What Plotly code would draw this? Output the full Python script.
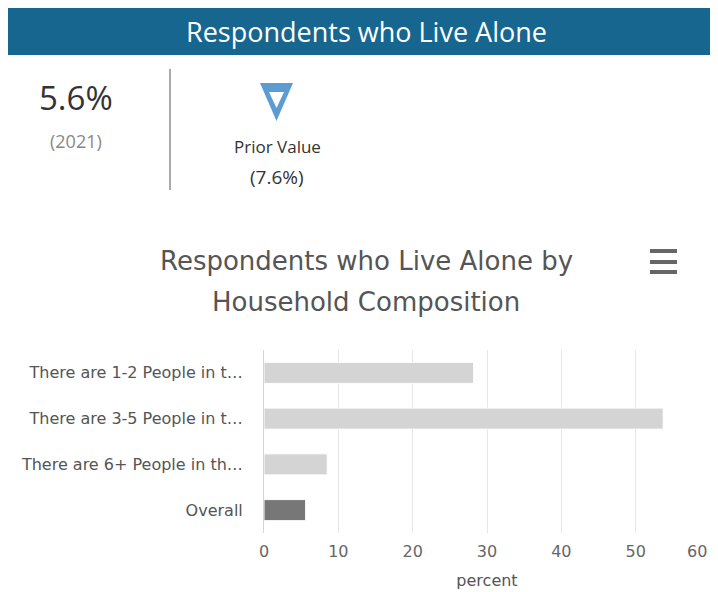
import plotly.graph_objects as go

# 데이터
categories = [
    "There are 1-2 People in t…",
    "There are 3-5 People in t…",
    "There are 6+ People in th…",
    "Overall",
]
values = [28.2, 53.7, 8.5, 5.6]
bar_colors = ["#d4d4d4", "#d4d4d4", "#d4d4d4", "#777777"]
x_ticks = [0, 10, 20, 30, 40, 50, 60]
# 마지막 눈금 레이블은 오른쪽 끝에서 잘리지 않도록 안쪽으로 당김
x_ticktext = [str(t) for t in x_ticks[:-1]] + [str(x_ticks[-1]) + "\u00a0" * 5]

current_value = "5.6%"
current_year = "2021"
prior_value = "7.6%"

# 페이지 body 기본 여백(8px) 보정
OFF = 8
W, H = 718, 592
ML, MR, MT, MB = 264 - OFF, 16, 350 - OFF, H - (533 - OFF)
PW = W - ML - MR
PH = H - MT - MB


def px(x):
    return (x - OFF - ML) / PW


def py(y):
    return (H - MB - (y - OFF)) / PH


fig = go.Figure()
fig.add_trace(go.Bar(
    x=values,
    y=categories,
    orientation="h",
    marker=dict(color=bar_colors, line=dict(color="white", width=1)),
    width=0.46,
    hoverinfo="x+y",
    showlegend=False,
))

shapes = [
    # 상단 배너
    dict(type="rect", xref="paper", yref="paper",
         x0=px(OFF - 1), x1=px(720), y0=py(5), y1=py(55),
         fillcolor="#17668f", line=dict(width=0), layer="below"),
    # 구분선
    dict(type="line", xref="paper", yref="paper",
         x0=px(170), x1=px(170), y0=py(69), y1=py(190),
         line=dict(color="#aaaaaa", width=2)),
    # 하향 삼각형 (외곽 + 안쪽 흰색)
    dict(type="path", xref="paper", yref="paper",
         path=f"M {px(260)} {py(83)} L {px(293)} {py(83)} L {px(276.5)} {py(121)} Z",
         fillcolor="#5f9bd3", line=dict(width=0)),
    dict(type="path", xref="paper", yref="paper",
         path=f"M {px(269)} {py(92)} L {px(284)} {py(92)} L {px(276.5)} {py(108)} Z",
         fillcolor="white", line=dict(width=0)),
]
# 메뉴 아이콘
for yy in (251, 262, 272):
    shapes.append(dict(type="line", xref="paper", yref="paper",
                       x0=px(650), x1=px(677), y0=py(yy), y1=py(yy),
                       line=dict(color="#666666", width=4)))

annotations = [
    dict(text="Respondents who Live Alone", x=px(366), y=py(31),
         font=dict(size=27, color="white")),
    dict(text=current_value, x=px(76), y=py(97),
         font=dict(size=33, color="#333333")),
    dict(text=f"({current_year})", x=px(76), y=py(141),
         font=dict(size=18, color="#888888")),
    dict(text="Prior Value", x=px(277), y=py(146),
         font=dict(size=17, color="#333333")),
    dict(text=f"({prior_value})", x=px(277), y=py(177),
         font=dict(size=19, color="#333333")),
    dict(text="Respondents who Live Alone by", x=px(366), y=py(261),
         font=dict(family="DejaVu Sans", size=26, color="#555555")),
    dict(text="Household Composition", x=px(366), y=py(302),
         font=dict(family="DejaVu Sans", size=26, color="#555555")),
]
for a in annotations:
    a.update(xref="paper", yref="paper", showarrow=False,
             xanchor="center", yanchor="middle")

fig.update_layout(
    width=W, height=H,
    margin=dict(l=ML, r=MR, t=MT, b=MB, autoexpand=False),
    font=dict(family="Open Sans", color="#555555"),
    plot_bgcolor="white",
    paper_bgcolor="white",
    bargap=0.5,
    shapes=shapes,
    annotations=annotations,
    xaxis=dict(
        range=[0, 60],
        tickvals=x_ticks,
        ticktext=x_ticktext,
        showgrid=True, gridcolor="#e6e6e6", gridwidth=1,
        zeroline=False, showline=False,
        tickfont=dict(family="DejaVu Sans", size=16, color="#666666"),
        ticks="", ticklabelstandoff=7,
        ticklabeloverflow="allow",
        title=dict(text="percent",
                   font=dict(family="DejaVu Sans", size=16, color="#555555"),
                   standoff=14),
        automargin=False,
        fixedrange=True,
    ),
    yaxis=dict(
        autorange="reversed",
        showgrid=False, zeroline=False,
        showline=True, linecolor="#ccd6eb", linewidth=1,
        tickfont=dict(family="DejaVu Sans", size=16, color="#555555"),
        ticks="", ticklabelstandoff=17,
        automargin=False,
        fixedrange=True,
    ),
)

fig.write_html("out.html", config={"displayModeBar": False})
